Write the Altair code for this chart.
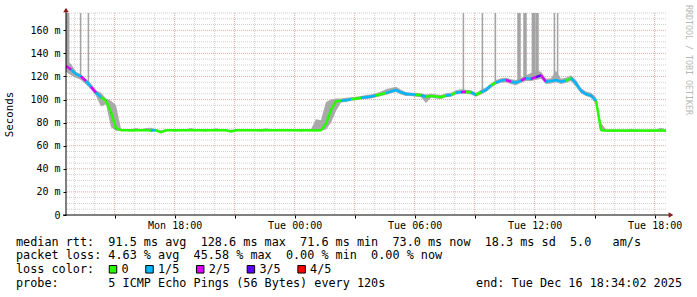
import altair as alt
import pandas as pd

# ---------------- data ----------------
START = pd.Timestamp("2025-12-15 12:34:02")
END = pd.Timestamp("2025-12-16 18:34:02")
STEP = pd.Timedelta(minutes=15)

median = [
    129, 126, 122, 120, 116, 111, 106, 102, 99, 89,
    75, 73.5, 73.4, 73.3, 73.4, 73.4, 73.5, 73.1, 73.4, 71.6,
    73.4, 73.4, 73.3, 73.4, 73.4, 73.5, 73.4, 73.4, 73.3, 73.4,
    73.4, 73.4, 73.4, 72.2, 73.4, 73.4, 73.5, 73.4, 73.4, 73.3,
    73.4, 73.4, 73.4, 73.4, 73.5, 73.4, 73.4, 73.3, 73.4, 73.3,
    73.3, 73.4, 79, 91, 98.5, 99, 99.5, 100.2, 100.8, 101.5,
    102, 102.7, 103.5, 104.6, 105.8, 107, 108.3, 106.3, 104.8, 104.6,
    104.2, 103.8, 102.5, 103, 102.6, 102, 103.5, 104, 106, 106.6,
    106.6, 106.3, 104, 106.5, 108.3, 112.5, 114.6, 116.5, 117, 115.5,
    114.6, 116.5, 118.5, 118, 119.5, 121, 115.5, 116, 117, 115.5,
    116.5, 118.5, 114, 107.5, 104.7, 103.5, 99, 73.5, 73.1, 73.1,
    73.2, 73.1, 73.1, 73.1, 73.2, 73.1, 73.1, 73.1, 73.2, 73.1, 73.0,
]
lo = [
    124, 121, 119, 117, 113, 109, 103, 94, 96, 76,
    73, 72.8, 72.8, 72.8, 72.8, 72.8, 72.9, 72.5, 72.8, 71.4,
    72.8, 72.8, 72.8, 72.8, 72.8, 72.9, 72.8, 72.8, 72.8, 72.8,
    72.8, 72.8, 72.8, 71.8, 72.8, 72.8, 72.9, 72.8, 72.8, 72.8,
    72.8, 72.8, 72.8, 72.8, 72.9, 72.8, 72.8, 72.8, 72.8, 72.8,
    72.8, 73, 74, 80, 90, 97.5, 98, 99, 99.5, 100,
    100.5, 101, 102, 103, 104, 105.5, 106.5, 104.5, 103, 103,
    102.5, 102, 97, 101.5, 101, 100.5, 102, 102.5, 104.5, 105,
    105, 104.5, 102.5, 104.5, 106.5, 110, 113, 114.5, 115, 113.5,
    112.5, 114.5, 116, 116, 117, 118, 113.5, 114, 115, 113.5,
    114.5, 116, 111, 105.5, 103, 101.5, 96, 72.6, 72.6, 72.6,
    72.6, 72.6, 72.6, 72.6, 72.6, 72.6, 72.6, 72.6, 72.6, 72.6, 72.6,
]
hi = [
    133, 131, 124, 122, 118, 114, 108, 106, 101, 99,
    95, 74.5, 74.2, 74.2, 75.3, 74.2, 75.3, 75.5, 74.2, 73.5,
    74.2, 74.2, 74.2, 74.2, 74.2, 75.3, 74.2, 74.2, 74.2, 74.2,
    75.2, 74.2, 74.2, 73.8, 74.2, 74.2, 74.2, 74.2, 74.2, 74.2,
    75.2, 74.2, 74.2, 74.2, 74.2, 74.2, 74.2, 74.2, 74.2, 74.2,
    83, 82, 98, 100, 101, 101, 101.5, 102, 102.5, 103,
    104, 104.5, 105.5, 107, 109, 110, 111, 108.5, 106.5, 106,
    106, 105.5, 104.5, 105, 104.5, 104, 105.5, 106, 108, 109,
    108.5, 108, 106, 108.5, 110.5, 114, 117, 118.5, 119, 117.5,
    117, 119, 121, 123, 125, 124, 118, 118.5, 125, 118,
    119, 121, 117, 110, 107, 106, 102, 80, 74, 74,
    74, 74, 74, 74.5, 74, 74, 74, 74, 74, 75.5, 74,
]
loss = [
    2, 1, 1, 2, 1, 2, 1, 0, 0, 0,
    0, 0, 0, 0, 0, 0, 0, 1, 0, 0,
    0, 0, 0, 0, 0, 0, 0, 0, 0, 0,
    0, 0, 0, 0, 0, 0, 0, 0, 0, 0,
    0, 0, 0, 0, 0, 0, 0, 0, 0, 0,
    0, 0, 0, 0, 0, 1, 1, 0, 0, 1,
    1, 1, 0, 0, 1, 1, 1, 1, 1, 1,
    0, 1, 0, 0, 0, 0, 1, 0, 1, 2,
    0, 1, 0, 1, 1, 0, 1, 1, 2, 1,
    1, 2, 1, 2, 3, 2, 1, 1, 1, 1,
    0, 1, 1, 1, 1, 1, 0, 0, 0, 0,
    0, 0, 0, 0, 0, 0, 0, 0, 0, 0, 0,
]
loss_labels = ["0", "1/5", "2/5", "3/5", "4/5"]
loss_colors = ["#26ff00", "#00b8ff", "#dd00ff", "#5e00ff", "#ff0000"]

# outlier spikes (hours after start, base in ms); they run off the top
spike_thin_h = [0.73, 1.12, 19.87, 20.82, 21.47, 24.42, 24.58]
spike_thin_base = [119, 114, 107, 108, 114, 119, 119]
spike_thick_h = [0.08, 22.65, 22.95, 23.37, 23.55]
spike_thick_base = [126, 117, 119, 119, 120]
SPIKE_TOP = 175

y_ticks = [0, 20, 40, 60, 80, 100, 120, 140, 160]

stats_lines = [
    "median rtt:  91.5 ms avg  128.6 ms max  71.6 ms min  73.0 ms now  18.3 ms sd  5.0   am/s",
    "packet loss: 4.63 % avg  45.58 % max  0.00 % min  0.00 % now",
    "loss color:",
    "probe:       5 ICMP Echo Pings (56 Bytes) every 120s",
]
end_text = "end: Tue Dec 16 18:34:02 2025"
side_text = "RRDTOOL / TOBI OETIKER"
y_title = "Seconds"

# ---------------- helpers ----------------
def iso(ts):
    return ts.strftime("%Y-%m-%dT%H:%M:%SZ")

def dt(ts):
    return alt.DateTime(year=ts.year, month=ts.month, date=ts.day, hours=ts.hour,
                        minutes=ts.minute, seconds=ts.second, utc=True)

def nb(s):
    return s.replace(" ", "\u00a0")

times = [START + STEP * i for i in range(len(median))]
df = pd.DataFrame({"t": [iso(t) for t in times], "lo": lo, "hi": hi, "m": median})

seg = pd.DataFrame({
    "t": [iso(times[i]) for i in range(len(median) - 1)],
    "t2": [iso(times[i + 1]) for i in range(len(median) - 1)],
    "m": median[:-1],
    "m2": median[1:],
    "loss": [loss_labels[loss[i]] for i in range(len(median) - 1)],
})

thin = pd.DataFrame({"t": [iso(START + pd.Timedelta(hours=h)) for h in spike_thin_h],
                     "b": spike_thin_base, "top": [SPIKE_TOP] * len(spike_thin_h)})
thick = pd.DataFrame({"t": [iso(START + pd.Timedelta(hours=h)) for h in spike_thick_h],
                      "b": spike_thick_base, "top": [SPIKE_TOP] * len(spike_thick_h)})

hours = pd.date_range("2025-12-15 13:00", "2025-12-16 18:00", freq="h")
vgrid_minor = pd.DataFrame({"t": [iso(h) for h in hours if h.hour % 3 != 0]})
vgrid_major = pd.DataFrame({"t": [iso(h) for h in hours if h.hour % 3 == 0]})
hvals = list(range(5, 180, 5))
hgrid_minor = pd.DataFrame({"v": [v for v in hvals if v % 20 != 0]})
hgrid_major = pd.DataFrame({"v": [v for v in hvals if v % 20 == 0]})

tick_times = pd.date_range("2025-12-15 15:00", "2025-12-16 18:00", freq="3h")

X_SCALE = alt.Scale(type="utc", domain=[dt(START), dt(END)])
Y_SCALE = alt.Scale(domain=[0, 175], nice=False, zero=True)
FONT = "DejaVu Sans Mono"

x_axis = alt.Axis(values=[dt(t) for t in tick_times],
                  labelExpr="utchours(datum.value) % 6 == 0 ? datum.label : ''",
                  format="%a %H:%M", domain=False, grid=False, tickSize=3,
                  tickColor="#000", labelFont=FONT, labelFontSize=10, labelColor="#000",
                  labelPadding=2, title=None, labelOverlap=False, labelFlush=False)
y_axis = alt.Axis(values=y_ticks,
                  labelExpr="datum.value == 0 ? '0' : datum.value + ' m'",
                  domain=False, grid=False, tickSize=3, tickColor="#000",
                  labelFont=FONT, labelFontSize=10, labelColor="#000",
                  labelPadding=3, title=None)

X = lambda f: alt.X(f, type="temporal", scale=X_SCALE, axis=x_axis)
Y = lambda f: alt.Y(f, type="quantitative", scale=Y_SCALE, axis=y_axis)

one = pd.DataFrame({"a": [0]})

layers = []
layers.append(alt.Chart(vgrid_minor).mark_rule(color="#d0d0d0", strokeDash=[1, 1], strokeWidth=1)
              .encode(x=X("t")))
layers.append(alt.Chart(hgrid_minor).mark_rule(color="#d0d0d0", strokeDash=[1, 1], strokeWidth=1)
              .encode(y=Y("v")))
layers.append(alt.Chart(vgrid_major).mark_rule(color="#e8a8a8", strokeDash=[1, 1], strokeWidth=1)
              .encode(x=X("t")))
layers.append(alt.Chart(hgrid_major).mark_rule(color="#e8a8a8", strokeDash=[1, 1], strokeWidth=1)
              .encode(y=Y("v")))
# smoke band
layers.append(alt.Chart(df).mark_area(color="#a9a9a9", clip=True).encode(
    x=X("t"), y=Y("lo"), y2="hi:Q"))
layers.append(alt.Chart(thin).mark_rule(color="#a4a4a4", strokeWidth=1.5, clip=True)
              .encode(x=X("t"), y=Y("b"), y2="top:Q"))
layers.append(alt.Chart(thick).mark_rule(color="#a4a4a4", strokeWidth=3.5, clip=True)
              .encode(x=X("t"), y=Y("b"), y2="top:Q"))
layers.append(alt.Chart(df).mark_line(color="#2a2a2a", strokeWidth=1.2, clip=True)
              .encode(x=X("t"), y=Y("m")))
layers.append(alt.Chart(seg).mark_rule(strokeWidth=2.5, strokeCap="butt", clip=True).encode(
    x=X("t"), x2="t2:T", y=Y("m"), y2="m2:Q",
    color=alt.Color("loss:N", scale=alt.Scale(domain=loss_labels, range=loss_colors), legend=None)))

# axis lines and arrows
layers.append(alt.Chart(one).mark_rule(color="#000", strokeWidth=1).encode(
    x=alt.value(0), y=alt.value(-4), y2=alt.value(202)))
layers.append(alt.Chart(one).mark_rule(color="#000", strokeWidth=1).encode(
    x=alt.value(-3), x2=alt.value(604), y=alt.value(202)))
layers.append(alt.Chart(one).mark_point(shape="triangle-up", filled=True, color="#8b1c1c", size=30, opacity=1)
              .encode(x=alt.value(0), y=alt.value(-3)))
layers.append(alt.Chart(one).mark_point(shape="triangle-right", filled=True, color="#8b1c1c", size=30, opacity=1)
              .encode(x=alt.value(605), y=alt.value(202)))

# titles / side text
layers.append(alt.Chart(one).mark_text(text=y_title, angle=270, font=FONT, fontSize=10.8,
                                       color="#000", align="center", baseline="middle")
              .encode(x=alt.value(-56), y=alt.value(101.5)))
layers.append(alt.Chart(one).mark_text(text=nb(side_text), angle=90, font=FONT, fontSize=8.3,
                                       color="#b8b8b8", align="center", baseline="middle")
              .encode(x=alt.value(622), y=alt.value(47)))

# legend lines
line_y = [228.7, 242, 256.3, 270.3]
for s, yv in zip(stats_lines, line_y):
    layers.append(alt.Chart(one).mark_text(text=nb(s), font=FONT, fontSize=11.8, color="#000",
                                           align="left", baseline="middle")
                  .encode(x=alt.value(-50), y=alt.value(yv)))
layers.append(alt.Chart(one).mark_text(text=nb(end_text), font=FONT, fontSize=11.8, color="#000",
                                       align="right", baseline="middle")
              .encode(x=alt.value(616), y=alt.value(270.3)))

# loss colour swatches
cx = 47.0
for lab, col in zip(loss_labels, loss_colors):
    layers.append(alt.Chart(one).mark_point(shape="square", filled=True, fill=col, stroke="#000",
                                            strokeWidth=1, size=56, opacity=1)
                  .encode(x=alt.value(cx), y=alt.value(256.3)))
    layers.append(alt.Chart(one).mark_text(text=lab, font=FONT, fontSize=11.8, color="#000",
                                           align="left", baseline="middle")
                  .encode(x=alt.value(cx + 8.5), y=alt.value(256.3)))
    cx += (len(lab) + 4) * 7.1 + 1

chart = alt.layer(*layers).properties(
    width=600, height=202,
    autosize=alt.AutoSizeParams(type="none"),
    padding={"left": 66, "top": 13, "right": 31, "bottom": 82},
    background="#ffffff",
).configure_view(stroke=None)

chart.save("out.html", embed_options={"renderer": "svg", "actions": False})
